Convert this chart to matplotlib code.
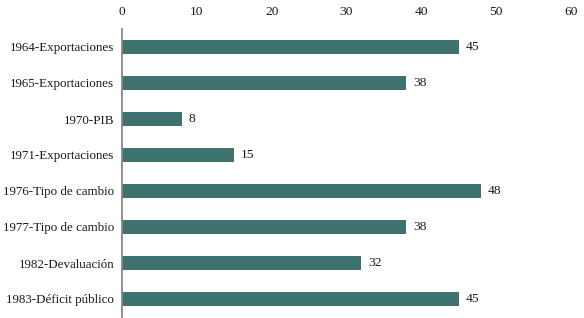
import matplotlib
matplotlib.use("Agg")
import matplotlib.pyplot as plt

categories = ["1964-Exportaciones", "1965-Exportaciones", "1970-PIB", "1971-Exportaciones",
              "1976-Tipo de cambio", "1977-Tipo de cambio", "1982-Devaluación", "1983-Déficit público"]
values = [45, 38, 8, 15, 48, 38, 32, 45]
xticks = [0, 10, 20, 30, 40, 50, 60]

plt.rcParams['font.family'] = ['Liberation Serif', 'DejaVu Serif']

fig = plt.figure(figsize=(5.84, 3.18), dpi=100)
ax = fig.add_axes([122/584, 1/318, 449/584, 288/318])

y = list(range(len(categories)))
ax.barh(y, values, height=0.38, color='#3e7370')
ax.set_ylim(len(categories) - 0.5, -0.5)
ax.set_xlim(0, 60)
ax.set_yticks(y)
ax.set_yticklabels(categories, fontsize=9.4, color='#1a1a1a')
ax.xaxis.tick_top()
ax.set_xticks(xticks)
ax.set_xticklabels([str(t) for t in xticks], fontsize=9.7, color='#1a1a1a')
ax.tick_params(axis='both', length=0)
ax.tick_params(axis='y', pad=5.5)
ax.tick_params(axis='x', pad=8)
for s in ['top', 'right', 'bottom']:
    ax.spines[s].set_visible(False)
ax.spines['left'].set_color('#888888')
ax.spines['left'].set_linewidth(1.3)

for yi, v in zip(y, values):
    ax.text(v + 0.9, yi, str(v), va='center', ha='left', fontsize=9.7, color='#1a1a1a')

fig.savefig("out.png", dpi=100)
